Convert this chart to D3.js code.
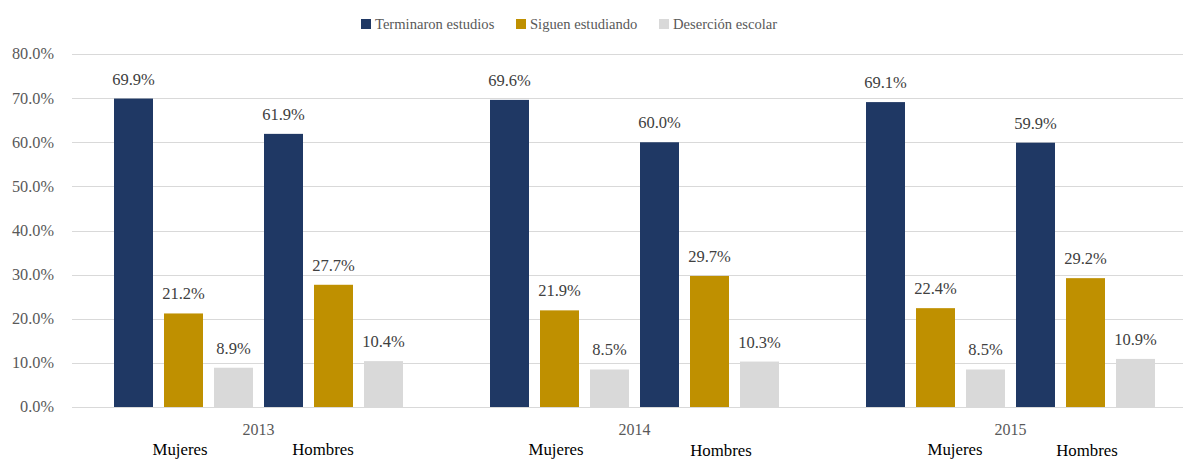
<!DOCTYPE html>
<html><head><meta charset="utf-8">
<script src="https://cdn.jsdelivr.net/npm/d3@7"></script>
<style>body{margin:0;background:#fff}svg{display:block}</style>
</head><body><svg id="c" width="1183" height="460"></svg>
<script>
const years = ["2013","2014","2015"];
const genders = ["Mujeres","Hombres"];
const seriesNames = ["Terminaron estudios","Siguen estudiando","Deserción escolar"];
// values per year: [Mujeres, Hombres]
const terminaron = [[69.9,61.9],[69.6,60.0],[69.1,59.9]];
const siguen     = [[21.2,27.7],[21.9,29.7],[22.4,29.2]];
const desercion  = [[8.9,10.4],[8.5,10.3],[8.5,10.9]];
const yTicks = [0,10,20,30,40,50,60,70,80];
const colors = ["#1f3864","#bf9000","#d9d9d9"];
const FONT = "'Liberation Serif','DejaVu Serif',serif";

const svg = d3.select("#c");
const y = d3.scaleLinear().domain([0,80]).range([407,54]);
const x = d3.scaleBand().domain(years).range([70.5,1198.5]).padding(0);
const slots = [];
genders.forEach(g=>seriesNames.forEach(s=>slots.push(g+"|"+s)));
const xs = d3.scaleBand().domain(slots).range([38,338]).paddingInner(0.22).paddingOuter(0.11);

// gridlines
svg.append("g").selectAll("line").data(yTicks).join("line")
  .attr("x1",72).attr("x2",1183).attr("y1",d=>Math.round(y(d))+0.5).attr("y2",d=>Math.round(y(d))+0.5)
  .attr("stroke","#d9d9d9").attr("stroke-width",1);
// y axis labels
const yAxis = d3.axisLeft(y).tickValues(yTicks).tickFormat(d=>d.toFixed(1)+"%").tickSize(0).tickPadding(0);
const ya = svg.append("g").attr("transform","translate(54,0)").call(yAxis);
ya.select(".domain").remove();
ya.attr("font-family",null).attr("font-size",null);
ya.selectAll("text").style("font-family",FONT).style("font-size","16.3px").attr("fill","#595959").attr("dy","0.3em");

const all = [terminaron,siguen,desercion];
const data = [];
years.forEach((yr,yi)=>genders.forEach((g,gi)=>seriesNames.forEach((s,si)=>{
  data.push({yr,g,s,si,v:all[si][yi][gi]});
})));
svg.append("g").selectAll("rect").data(data).join("rect")
  .attr("x",d=>x(d.yr)+xs(d.g+"|"+d.s))
  .attr("width",xs.bandwidth())
  .attr("y",d=>y(d.v)).attr("height",d=>y(0)-y(d.v))
  .attr("fill",d=>colors[d.si]);
svg.append("g").selectAll("text").data(data).join("text")
  .attr("x",d=>x(d.yr)+xs(d.g+"|"+d.s)+xs.bandwidth()/2)
  .attr("y",d=>y(d.v)-14)
  .attr("text-anchor","middle").style("font-family",FONT).style("font-size","16.5px").attr("fill","#404040")
  .text(d=>d.v.toFixed(1)+"%");

// year labels
svg.append("g").selectAll("text").data(years).join("text")
  .attr("x",d=>x(d)+x.bandwidth()/2).attr("y",435)
  .attr("text-anchor","middle").style("font-family",FONT).style("font-size","16px").attr("fill","#595959").text(d=>d);

// gender labels (layout offsets from original image)
const gDx = [[-3.5,-10.5],[-3.5,11.5],[19.5,1.5]];
const gY = [[455,455],[455,456],[455,456]];
years.forEach((yr,yi)=>genders.forEach((g,gi)=>{
  const a = x(yr)+xs(g+"|"+seriesNames[0]);
  const b = x(yr)+xs(g+"|"+seriesNames[2])+xs.bandwidth();
  svg.append("text").attr("x",(a+b)/2+gDx[yi][gi]).attr("y",gY[yi][gi])
    .attr("text-anchor","middle").style("font-family",FONT).style("font-size","16.8px").attr("fill","#000").text(g);
}));

// legend
const legX = [361,516,659];
const leg = svg.append("g").selectAll("g").data(seriesNames).join("g")
  .attr("transform",(d,i)=>`translate(${legX[i]},19)`);
leg.append("rect").attr("width",10).attr("height",10).attr("fill",(d,i)=>colors[i]);
leg.append("text").attr("x",14).attr("y",9.5).style("font-family",FONT).style("font-size","14.6px").attr("fill","#595959").text(d=>d);
</script></body></html>
